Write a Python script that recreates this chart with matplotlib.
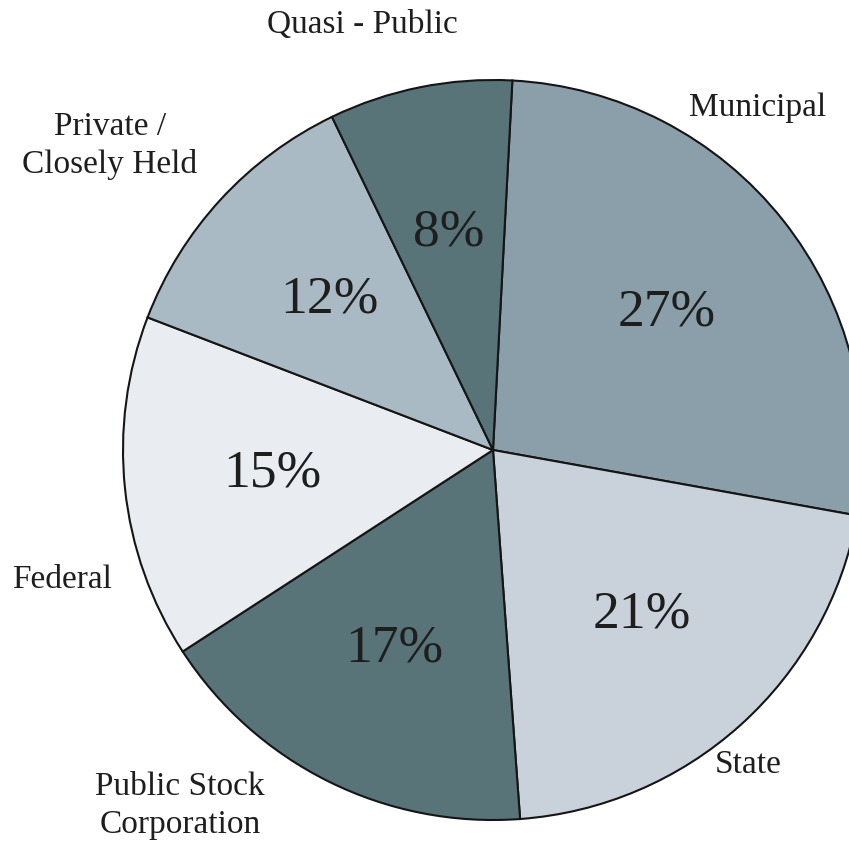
import matplotlib.pyplot as plt
import numpy as np

# data (clockwise from the top)
categories = ["Municipal", "State", "Public Stock\nCorporation", "Federal",
              "Private /\nClosely Held", "Quasi - Public"]
shares = [27, 21, 17, 15, 12, 8]

colors = ["#8a9fa9", "#c9d2da", "#587479", "#e9ecf0", "#a9bac4", "#587479"]

# where the category names sit, in pie-radius units
label_pos = [(0.714, 0.924), (0.689, -0.851), (-0.846, -0.962),
             (-1.165, -0.351), (-1.035, 0.822), (-0.354, 1.149)]

plt.rcParams['font.family'] = ['Liberation Serif', 'DejaVu Serif']

fig = plt.figure(figsize=(8.49, 8.42), dpi=100)
# axes sized so the pie is centred at (493, 450) px with radius 370 px
ax = fig.add_axes([123 / 849, 22 / 842, 740 / 849, 740 / 842])

wedges, texts = ax.pie(
    shares, colors=colors, startangle=87, counterclock=False,
    radius=1, wedgeprops=dict(edgecolor="#151515", linewidth=1.5),
)

# percentage labels inside the slices
for w, v in zip(wedges, shares):
    mid = np.deg2rad((w.theta1 + w.theta2) / 2)
    ax.text(0.6 * np.cos(mid), 0.6 * np.sin(mid), f"{v}%",
            ha="center", va="center", fontsize=38.5, color="#1e1e1e")

for name, (x, y) in zip(categories, label_pos):
    ax.text(x, y, name, ha="center", va="center", fontsize=24,
            color="#1e1e1e", linespacing=1.32)

ax.set_xlim(-1, 1)
ax.set_ylim(-1, 1)
ax.set_aspect("equal")
ax.axis("off")

fig.savefig("out.png", dpi=100)
